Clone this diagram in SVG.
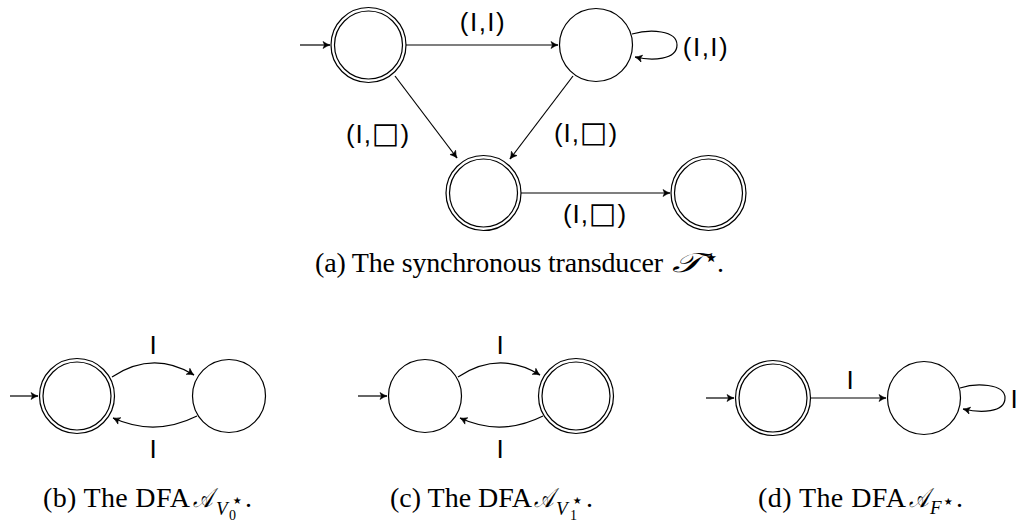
<svg xmlns="http://www.w3.org/2000/svg" width="1019" height="523" viewBox="0 0 1019 523">
<style>
.st{fill:none;stroke:#000;stroke-width:1.2}
.ed{fill:none;stroke:#000;stroke-width:1.2;marker-end:url(#ah)}
.lb{font-family:"Liberation Sans","DejaVu Sans",sans-serif;font-size:26px;fill:#000;text-anchor:middle}
.sq{font-family:"DejaVu Sans",sans-serif;font-size:29px}
.cap{font-family:"Liberation Serif","DejaVu Serif",serif;font-size:28px;fill:#000}
.mi{font-family:"Liberation Serif","DejaVu Serif",serif;font-style:italic;fill:#000}
.cal{font-size:27px}
.sv{font-family:"Liberation Serif","DejaVu Serif",serif;font-style:italic;font-size:19px}
.sn{font-family:"Liberation Serif","DejaVu Serif",serif;font-style:normal;font-size:14px}
.ss{font-family:"DejaVu Sans",sans-serif;font-style:normal;font-size:20px}
.sb{font-family:"DejaVu Sans",sans-serif;font-style:normal;font-size:26px}
.pd{font-family:"Liberation Serif","DejaVu Serif",serif;font-style:normal;font-size:28px}
</style>
<defs>
<marker id="ah" markerWidth="10" markerHeight="10" viewBox="-8 -5 10 10" refX="0" refY="0" orient="auto" markerUnits="userSpaceOnUse">
<path d="M-7,-3.5 Q-3,-0.8 0,0 Q-3,0.8 -7,3.5 L-5.5,0 Z" fill="#000" stroke="#000" stroke-width="0.6" stroke-linejoin="round"/>
</marker>
</defs>

<g id="a-q0"><circle class="st" cx="368.5" cy="45" r="37.5"/><circle class="st" cx="368.5" cy="45" r="34"/></g>
<g id="a-q1"><circle class="st" cx="596" cy="45" r="36.5"/></g>
<g id="a-q2"><circle class="st" cx="483.5" cy="193" r="37.5"/><circle class="st" cx="483.5" cy="193" r="34"/></g>
<g id="a-q3"><circle class="st" cx="708.5" cy="193" r="37.5"/><circle class="st" cx="708.5" cy="193" r="34"/></g>

<g id="b-q0"><circle class="st" cx="77" cy="396" r="37.5"/><circle class="st" cx="77" cy="396" r="34"/></g>
<g id="b-q1"><circle class="st" cx="229" cy="396" r="36.5"/></g>

<g id="c-q0"><circle class="st" cx="425" cy="396" r="36.5"/></g>
<g id="c-q1"><circle class="st" cx="576" cy="396" r="37.5"/><circle class="st" cx="576" cy="396" r="34"/></g>

<g id="d-q0"><circle class="st" cx="773" cy="398" r="37.5"/><circle class="st" cx="773" cy="398" r="34"/></g>
<g id="d-q1"><circle class="st" cx="924" cy="398" r="36.5"/></g>

<g id="connectors">
<path class="ed" d="M300,45 L330,45"/>
<path class="ed" d="M406,45 L558,45"/>
<path class="ed" d="M632,34 C650,29 677,30 677,45 C677,60 652,61 635,57"/>
<path class="ed" d="M395,76 L457,158"/>
<path class="ed" d="M573,76 L510,159"/>
<path class="ed" d="M521,193 L670,193"/>

<path class="ed" d="M10,396 L38,396"/>
<path class="ed" d="M112,377 Q153,350 194,375"/>
<path class="ed" d="M197,416 Q155,437 113,418"/>

<path class="ed" d="M358,396 L387,396"/>
<path class="ed" d="M458,377 Q499,350 540,375"/>
<path class="ed" d="M543,416 Q501,437 460,418"/>

<path class="ed" d="M706,398 L734,398"/>
<path class="ed" d="M811,398 L886,398"/>
<path class="ed" d="M960,388 C975,383 1005,383 1005,398 C1005,413 980,413 963,409"/>
</g>

<g id="labels">
<text class="lb" x="483" y="31" letter-spacing="1.5">(I,I)</text>
<text class="lb" x="706" y="56" letter-spacing="1.5">(I,I)</text>
<text class="lb" x="378" y="143" letter-spacing="1">(I,<tspan class="sq">□</tspan>)</text>
<text class="lb" x="586" y="142" letter-spacing="1">(I,<tspan class="sq">□</tspan>)</text>
<text class="lb" x="595" y="223" letter-spacing="1">(I,<tspan class="sq">□</tspan>)</text>
<text class="lb" x="153" y="354">I</text>
<text class="lb" x="153" y="458">I</text>
<text class="lb" x="500" y="354">I</text>
<text class="lb" x="500" y="458">I</text>
<text class="lb" x="850" y="389">I</text>
<text class="lb" x="1014" y="408">I</text>
</g>

<g id="captions">
<text class="cap" x="315" y="272" textLength="348">(a) The synchronous transducer</text>
<text class="mi cal" x="672" y="272" textLength="30" lengthAdjust="spacingAndGlyphs">𝒯</text>
<text class="mi" x="703" y="266"><tspan class="sb">⋆</tspan><tspan class="pd" x="717" y="272">.</tspan></text>

<text class="cap" x="43" y="507" textLength="147">(b) The DFA</text>
<text class="mi cal" x="193" y="507" textLength="20" lengthAdjust="spacingAndGlyphs">𝒜</text>
<text class="mi" x="216" y="515"><tspan class="sv">V</tspan><tspan class="sn" x="229" y="520">0</tspan><tspan class="ss" x="231" y="507">⋆</tspan><tspan class="pd" x="245" y="507">.</tspan></text>

<text class="cap" x="390" y="507" textLength="142">(c) The DFA</text>
<text class="mi cal" x="534" y="507" textLength="20" lengthAdjust="spacingAndGlyphs">𝒜</text>
<text class="mi" x="556" y="515"><tspan class="sv">V</tspan><tspan class="sn" x="570" y="520">1</tspan><tspan class="ss" x="571" y="507">⋆</tspan><tspan class="pd" x="586" y="507">.</tspan></text>

<text class="cap" x="758" y="507" textLength="148">(d) The DFA</text>
<text class="mi cal" x="909" y="507" textLength="20" lengthAdjust="spacingAndGlyphs">𝒜</text>
<text class="mi" x="930" y="514"><tspan class="sv">F</tspan><tspan class="ss" x="942" y="508">⋆</tspan><tspan class="pd" x="956" y="507">.</tspan></text>
</g>
</svg>
